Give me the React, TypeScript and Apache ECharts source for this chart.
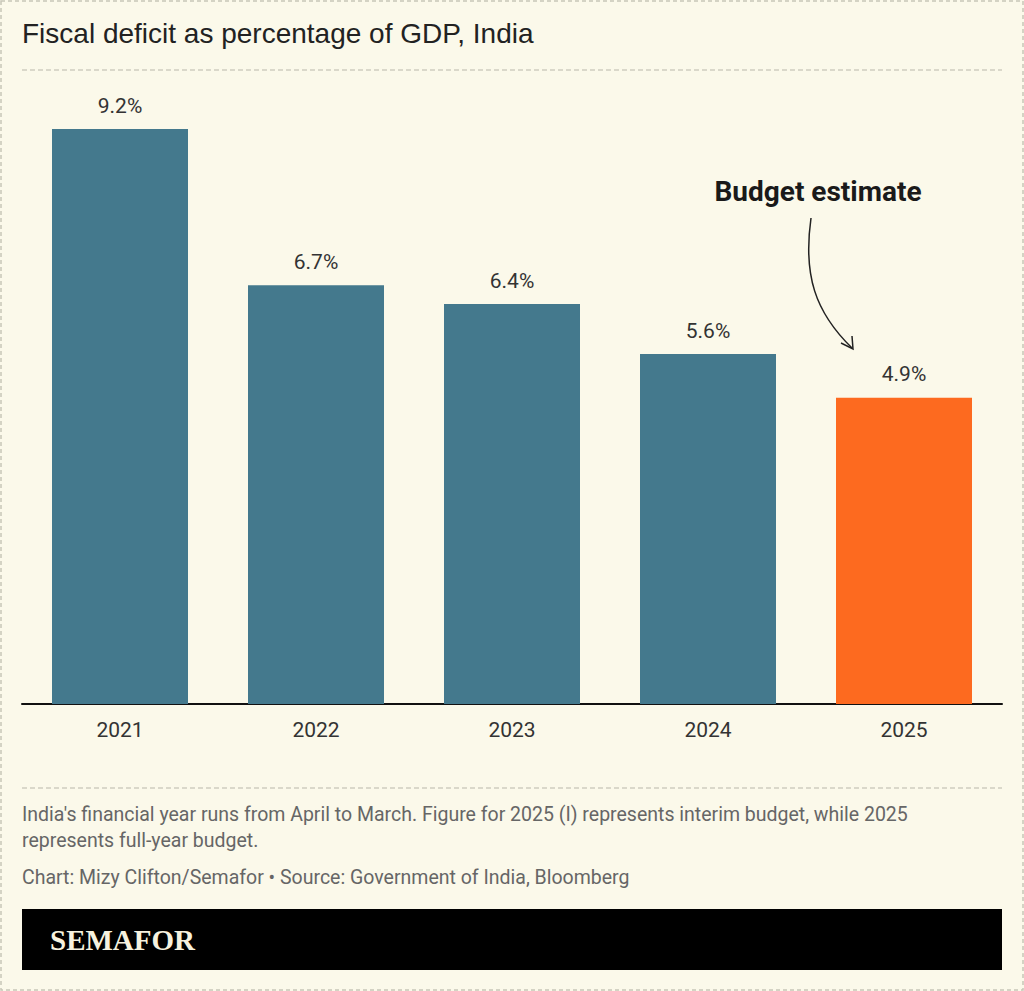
import React, { useEffect, useRef } from "react";
import * as echarts from "echarts";

const categories = ["2021", "2022", "2023", "2024", "2025"];
const values = [9.2, 6.7, 6.4, 5.6, 4.9];
const barColors = ["#44798d", "#44798d", "#44798d", "#44798d", "#fd6a1f"];
const titleText = "Fiscal deficit as percentage of GDP, India";
const noteLines = [
  "India's financial year runs from April to March. Figure for 2025 (I) represents interim budget, while 2025",
  "represents full-year budget.",
];
const sourceText = "Chart: Mizy Clifton/Semafor \u2022 Source: Government of India, Bloomberg";
const annotationText = "Budget estimate";
const brandText = "SEMAFOR";

export default function App() {
  const ref = useRef<HTMLDivElement>(null);
  useEffect(() => {
    if (!ref.current) return;
    const chart = echarts.init(ref.current, null, { renderer: "svg" });
    const sans = "Roboto, 'Noto Sans', sans-serif";
    chart.setOption({
      animation: false,
      backgroundColor: "#fbf9ea",
      grid: { left: 22, right: 22, top: 79, bottom: 287, containLabel: false },
      xAxis: {
        type: "category",
        data: categories,
        axisLine: { lineStyle: { color: "#111", width: 2 } },
        axisTick: { show: false },
        axisLabel: { color: "#333", fontSize: 21, fontFamily: sans, margin: 15 },
      },
      yAxis: {
        type: "value",
        min: 0,
        max: 10,
        show: false,
        splitLine: { show: false },
      },
      series: [
        {
          type: "bar",
          barWidth: 136,
          data: values.map((v, i) => ({ value: v, itemStyle: { color: barColors[i] } })),
          label: {
            show: true,
            position: "top",
            distance: 13,
            formatter: (p: any) => p.value + "%",
            color: "#333",
            fontSize: 21,
            fontFamily: sans,
          },
        },
      ],
      graphic: [
        {
          type: "rect",
          shape: { x: 1, y: 1, width: 1022, height: 989 },
          style: { fill: "none", stroke: "#c8c6b8", lineWidth: 1.5, lineDash: [4, 3] },
          silent: true,
        },
        {
          type: "text",
          x: 22,
          y: 33,
          style: {
            text: titleText,
            fontSize: 28,
            fontFamily: "'Liberation Sans', Arial, sans-serif",
            fill: "#222",
            verticalAlign: "middle",
          },
        },
        {
          type: "line",
          shape: { x1: 22, y1: 70, x2: 1002, y2: 70 },
          style: { stroke: "#cfcdc0", lineWidth: 1.5, lineDash: [5, 3] },
        },
        {
          type: "line",
          shape: { x1: 22, y1: 788, x2: 1002, y2: 788 },
          style: { stroke: "#cfcdc0", lineWidth: 1.5, lineDash: [5, 3] },
        },
        {
          type: "text",
          x: 818,
          y: 191,
          style: {
            text: annotationText,
            fontSize: 28,
            fontWeight: "bold",
            fontFamily: sans,
            fill: "#1a1a1a",
            align: "center",
            verticalAlign: "middle",
          },
        },
        {
          type: "bezierCurve",
          shape: { x1: 811, y1: 218, cpx1: 803, cpy1: 275, cpx2: 815, cpy2: 312, x2: 852, y2: 348 },
          style: { stroke: "#222", lineWidth: 1.5, fill: "none" },
        },
        {
          type: "polyline",
          shape: { points: [[841, 343], [853, 349], [852, 336]] },
          style: { stroke: "#222", lineWidth: 1.5, fill: "none" },
        },
        {
          type: "text",
          x: 22,
          y: 827,
          style: {
            text: noteLines.join("\n"),
            fontSize: 19.5,
            lineHeight: 26,
            fontFamily: sans,
            fill: "#666",
            verticalAlign: "middle",
          },
        },
        {
          type: "text",
          x: 22,
          y: 877,
          style: {
            text: sourceText,
            fontSize: 19.5,
            fontFamily: sans,
            fill: "#666",
            verticalAlign: "middle",
          },
        },
        {
          type: "rect",
          shape: { x: 22, y: 909, width: 980, height: 61 },
          style: { fill: "#000" },
        },
        {
          type: "text",
          x: 50,
          y: 940,
          style: {
            text: brandText,
            fontSize: 29,
            fontWeight: "bold",
            fontFamily: "'Liberation Serif', 'DejaVu Serif', serif",
            fill: "#f6f2df",
            verticalAlign: "middle",
          },
        },
      ],
    });
    return () => chart.dispose();
  }, []);
  return (
    <div
      ref={ref}
      style={{ position: "absolute", left: 0, top: 0, width: 1024, height: 991 }}
    />
  );
}
